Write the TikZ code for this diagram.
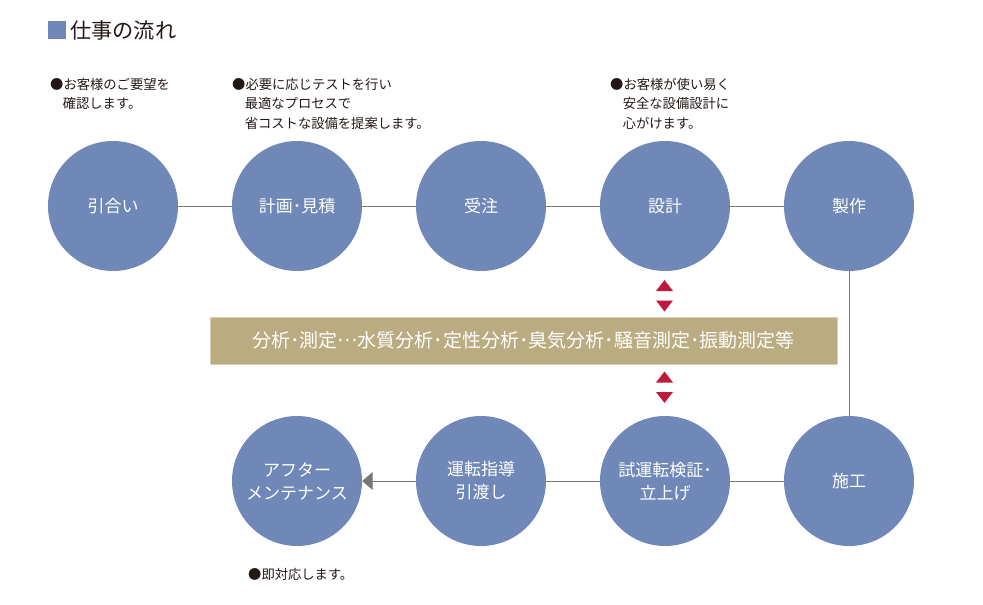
\documentclass[tikz,border=0pt]{standalone}
\usepackage{fontspec}
\setmainfont{Noto Sans CJK JP}
\usetikzlibrary{arrows.meta}
\definecolor{stepblue}{HTML}{6F88B8}
\definecolor{bandgold}{HTML}{BBAB81}
\definecolor{markred}{HTML}{BF1A3C}
\definecolor{linegray}{HTML}{777777}
\definecolor{notetext}{HTML}{231815}
\tikzset{
  stage/.style={circle,fill=stepblue,minimum size=130pt,inner sep=0pt,
    text=white,align=center,font=\fontsize{17}{23}\selectfont},
  note/.style={anchor=north west,inner sep=0pt,align=left,text=notetext,
    font=\fontsize{13.3}{19.5}\selectfont},
  flow/.style={draw=linegray,line width=1pt}
}
\newcommand{\uptri}[1]{\fill[markred] (#1) ++(-8.5,5.5) -- ++(17,0) -- ++(-8.5,-11) -- cycle;}
\newcommand{\downtri}[1]{\fill[markred] (#1) ++(-8.5,-5.5) -- ++(17,0) -- ++(-8.5,11) -- cycle;}
\newcommand{\middots}{\raisebox{0.3em}{…}}

\begin{document}
\begin{tikzpicture}[x=1pt,y=-1pt]
  \useasboundingbox (0,0) rectangle (983,605);
  % title
  \fill[stepblue] (48,21) rectangle (66,39);
  \node[anchor=west,inner sep=0pt,text=notetext,font=\fontsize{21.2}{24}\selectfont]
    (title) at (70,30.5) {仕事の流れ};
  % top row
  \node[stage] (hikiai) at (113,206) {引合い};
  \node[stage] (keikaku) at (297,206) {計画･見積};
  \node[stage] (juchu) at (481,206) {受注};
  \node[stage] (sekkei) at (665,206) {設計};
  \node[stage] (seisaku) at (849,206) {製作};
  % bottom row
  \node[stage] (after) at (297,481) {アフター\\メンテナンス};
  \node[stage] (hikiwatashi) at (481,481) {運転指導\\引渡し};
  \node[stage] (shiunten) at (665,481) {試運転検証･\\立上げ};
  \node[stage] (seko) at (849,481) {施工};
  % connectors
  \draw[flow] (hikiai) -- (keikaku);
  \draw[flow] (keikaku) -- (juchu);
  \draw[flow] (juchu) -- (sekkei);
  \draw[flow] (sekkei) -- (seisaku);
  \draw[flow] (seisaku) -- (seko);
  \draw[flow] (seko) -- (shiunten);
  \draw[flow] (shiunten) -- (hikiwatashi);
  \draw[flow,-{Triangle[width=18pt,length=10.5pt]}] (hikiwatashi) -- (after);
  % band
  \node[fill=bandgold,draw=bandgold!60!white,line width=0.6pt,minimum width=627pt,minimum height=47pt,
    inner sep=0pt,text=white,font=\fontsize{19}{22}\selectfont] (bunseki) at (523.5,340.5)
    {分析･測定\middots 水質分析･定性分析･臭気分析･騒音測定･振動測定等};
  \uptri{664.5,285.5}
  \downtri{664.5,306}
  \uptri{664.5,377}
  \downtri{664.5,397.5}
  % notes
  \node[note] (note1) at (50,78) {●お客様のご要望を\\\hspace{0.95em}確認します。};
  \node[note] (note2) at (232,78) {●必要に応じテストを行い\\\hspace{0.95em}最適なプロセスで\\\hspace{0.95em}省コストな設備を提案します。};
  \node[note] (note3) at (610,78) {●お客様が使い易く\\\hspace{0.95em}安全な設備設計に\\\hspace{0.95em}心がけます。};
  \node[note] (note4) at (248,568) {●即対応します。};
\end{tikzpicture}
\end{document}
